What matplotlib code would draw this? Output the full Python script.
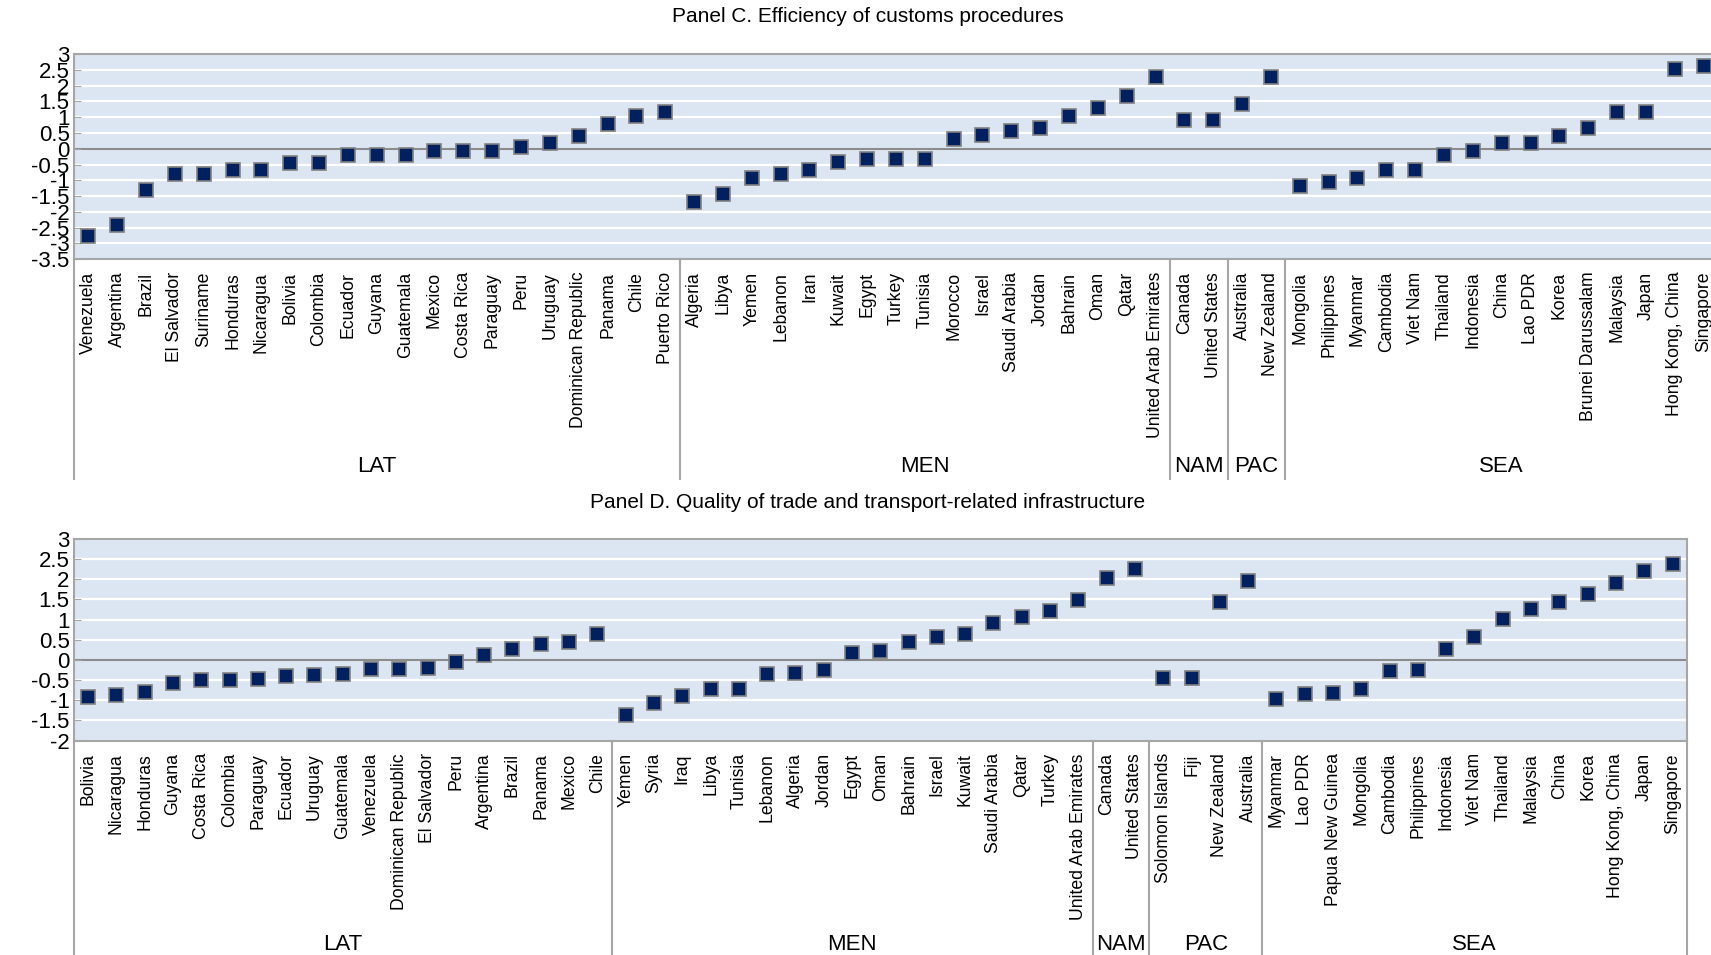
# Panels C and D: customs efficiency and trade infrastructure by region
import matplotlib
matplotlib.use("Agg")
import matplotlib.pyplot as plt
from matplotlib import font_manager
from matplotlib.transforms import blended_transform_factory


# Panel C
c_groups = ["LAT", "MEN", "NAM", "PAC", "SEA"]
c_group_sizes = [21, 17, 2, 2, 15]
c_countries = [
	"Venezuela", "Argentina", "Brazil", "El Salvador", "Suriname", "Honduras", "Nicaragua",
	"Bolivia", "Colombia", "Ecuador", "Guyana", "Guatemala", "Mexico", "Costa Rica",
	"Paraguay", "Peru", "Uruguay", "Dominican Republic", "Panama", "Chile", "Puerto Rico",
	"Algeria", "Libya", "Yemen", "Lebanon", "Iran", "Kuwait", "Egypt", "Turkey", "Tunisia",
	"Morocco", "Israel", "Saudi Arabia", "Jordan", "Bahrain", "Oman", "Qatar",
	"United Arab Emirates",
	"Canada", "United States",
	"Australia", "New Zealand",
	"Mongolia", "Philippines", "Myanmar", "Cambodia", "Viet Nam", "Thailand", "Indonesia",
	"China", "Lao PDR", "Korea", "Brunei Darussalam", "Malaysia", "Japan",
	"Hong Kong, China", "Singapore"]
c_values = [
	-2.77, -2.41, -1.30, -0.80, -0.80, -0.68, -0.68,
	-0.44, -0.44, -0.19, -0.19, -0.19, -0.06, -0.06,
	-0.06, 0.06, 0.18, 0.41, 0.79, 1.04, 1.15,
	-1.69, -1.43, -0.93, -0.80, -0.68, -0.43, -0.32, -0.32, -0.32,
	0.31, 0.42, 0.55, 0.67, 1.05, 1.28, 1.66,
	2.27,
	0.92, 0.92,
	1.42, 2.27,
	-1.17, -1.06, -0.93, -0.68, -0.68, -0.19, -0.06,
	0.18, 0.18, 0.41, 0.67, 1.15, 1.15,
	2.52, 2.63]

# Panel D
d_groups = ["LAT", "MEN", "NAM", "PAC", "SEA"]
d_group_sizes = [19, 17, 2, 4, 15]
d_countries = [
	"Bolivia", "Nicaragua", "Honduras", "Guyana", "Costa Rica", "Colombia", "Paraguay",
	"Ecuador", "Uruguay", "Guatemala", "Venezuela", "Dominican Republic", "El Salvador",
	"Peru", "Argentina", "Brazil", "Panama", "Mexico", "Chile",
	"Yemen", "Syria", "Iraq", "Libya", "Tunisia", "Lebanon", "Algeria", "Jordan", "Egypt",
	"Oman", "Bahrain", "Israel", "Kuwait", "Saudi Arabia", "Qatar", "Turkey",
	"United Arab Emirates",
	"Canada", "United States",
	"Solomon Islands", "Fiji", "New Zealand", "Australia",
	"Myanmar", "Lao PDR", "Papua New Guinea", "Mongolia", "Cambodia", "Philippines",
	"Indonesia", "Viet Nam", "Thailand", "Malaysia", "China", "Korea",
	"Hong Kong, China", "Japan", "Singapore"]
d_values = [
	-0.91, -0.87, -0.79, -0.56, -0.50, -0.50, -0.47,
	-0.40, -0.38, -0.34, -0.23, -0.22, -0.19,
	-0.05, 0.12, 0.27, 0.39, 0.44, 0.65,
	-1.37, -1.06, -0.89, -0.72, -0.71, -0.35, -0.33, -0.26, 0.17,
	0.21, 0.45, 0.56, 0.64, 0.92, 1.07, 1.21,
	1.49,
	2.03, 2.24,
	-0.45, -0.44, 1.44, 1.96,
	-0.96, -0.85, -0.82, -0.73, -0.27, -0.24,
	0.26, 0.56, 1.01, 1.25, 1.43, 1.62,
	1.90, 2.19, 2.38]

c_title = "Panel C. Efficiency of customs procedures"
d_title = "Panel D. Quality of trade and transport-related infrastructure"

bg_color = "#DCE6F2"
marker_color = "#002060"
line_color = "#A6A6A6"

installed = set(f.name for f in font_manager.fontManager.ttflist)
narrow_font = "Liberation Sans Narrow" if "Liberation Sans Narrow" in installed else "Liberation Sans"
plt.rcParams["font.family"] = ["Liberation Sans", "DejaVu Sans"]


def draw_panel(fig, rect, countries, values, groups, sizes, ymin, ymax, line_drop, right_edge):
	ax = fig.add_axes(rect)
	ax.set_facecolor(bg_color)
	x = list(range(len(countries)))
	ax.set_xlim(-0.5, len(countries) - 0.5)
	ax.set_ylim(ymin, ymax)

	# white grid every 0.5, grey zero line
	ticks = [ymin + 0.5 * i for i in range(int(round((ymax - ymin) / 0.5)) + 1)]
	for t in ticks[1:-1]:
		if abs(t) < 1e-9:
			ax.axhline(0, color="#8C8C8C", lw=1.5, zorder=1)
		else:
			ax.axhline(t, color="white", lw=1.6, zorder=1)

	ax.plot(x, values, ls="none", marker="s", markersize=9.6, markerfacecolor=marker_color,
		markeredgecolor="#808080", markeredgewidth=1.2, zorder=3, clip_on=True)

	ax.set_yticks(ticks)
	ax.set_yticklabels(["%g" % t for t in ticks], fontfamily=narrow_font, fontsize=16)
	ax.tick_params(axis="y", direction="in", length=5, color=line_color, pad=3)
	ax.set_xticks(x)
	ax.set_xticklabels(countries, rotation=90, fontsize=12.7)
	ax.tick_params(axis="x", length=0, pad=9)

	for side in ["top", "left", "bottom", "right"]:
		ax.spines[side].set_color(line_color)
		ax.spines[side].set_linewidth(1.5)
	if not right_edge:
		ax.spines["right"].set_visible(False)

	# group separators and labels below the axis
	trans = blended_transform_factory(ax.transData, ax.transAxes)
	start = 0
	edges = [-0.5]
	for name, n in zip(groups, sizes):
		ax.text(start + (n - 1) / 2.0, line_drop + 0.06, name, transform=trans, ha="center",
			va="center", fontsize=16, fontfamily=narrow_font)
		start += n
		edges.append(start - 0.5)
	if not right_edge:
		edges = edges[:-1]
	for e in edges:
		ax.plot([e, e], [0, line_drop], transform=trans, color=line_color, lw=1.5, clip_on=False)
	return ax


if __name__ == "__main__":
	fig = plt.figure(figsize=(17.11, 9.55), dpi=100)
	draw_panel(fig, [0.0432, 0.7285, 1.0041 - 0.0432, 0.9435 - 0.7285], c_countries, c_values,
		c_groups, c_group_sizes, -3.5, 3.0, -1.07, False)
	draw_panel(fig, [0.0432, 0.2244, 0.9858 - 0.0432, 0.4359 - 0.2244], d_countries, d_values,
		d_groups, d_group_sizes, -2.0, 3.0, -1.07, True)
	fig.text(0.507, 1 - 17 / 955.0, c_title, ha="center", va="center", fontsize=15)
	fig.text(0.507, 1 - 502 / 955.0, d_title, ha="center", va="center", fontsize=15)
	fig.savefig("out.png", dpi=100)
